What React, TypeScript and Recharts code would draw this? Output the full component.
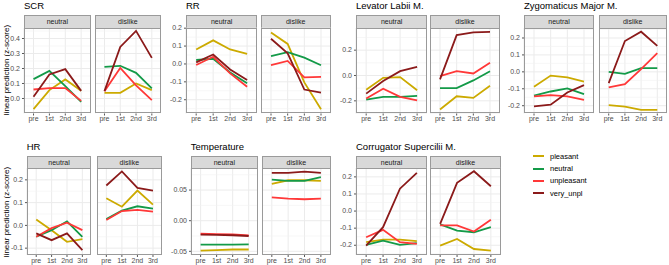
import React from 'react';
import { LineChart, Line, XAxis, YAxis, CartesianGrid } from 'recharts';

const categories = ['pre', '1st', '2nd', '3rd'];
const seriesNames = ['pleasant', 'neutral', 'unpleasant', 'very_unpl'];
const seriesColors = ['#CCAA00', '#139A48', '#FF3838', '#8B1A1A'];
const facetNames = ['neutral', 'dislike'];
const yAxisTitle = 'linear prediction (z-score)';

// rows ordered as seriesNames: pleasant, neutral, unpleasant, very_unpl
const scrNeutral = [
  [-0.071, 0.056, 0.127, 0.051],
  [0.129, 0.184, 0.082, -0.022],
  [0.06, 0.069, 0.069, -0.016],
  [0.011, 0.16, 0.196, 0.051],
];
const scrDislike = [
  [0.038, 0.038, 0.1, 0.056],
  [0.211, 0.218, 0.171, 0.067],
  [0.049, 0.204, 0.087, -0.011],
  [0.049, 0.344, 0.451, 0.271],
];
const rrNeutral = [
  [0.081, 0.132, 0.081, 0.057],
  [0.022, 0.029, -0.048, -0.108],
  [-0.006, 0.04, -0.053, -0.127],
  [0.009, 0.053, -0.031, -0.09],
];
const rrDislike = [
  [0.176, 0.112, -0.103, -0.253],
  [0.044, 0.066, 0.035, -0.007],
  [-0.006, 0.017, -0.075, -0.072],
  [0.141, 0.059, -0.143, -0.16],
];
const levNeutral = [
  [-0.112, -0.018, -0.013, -0.117],
  [-0.19, -0.169, -0.169, -0.161],
  [-0.182, -0.104, -0.169, -0.197],
  [-0.143, -0.044, 0.034, 0.068],
];
const levDislike = [
  [-0.268, -0.164, -0.177, -0.081],
  [-0.099, -0.099, -0.039, 0.034],
  [-0.005, 0.034, 0.016, 0.101],
  [-0.031, 0.319, 0.34, 0.345],
];
const zygNeutral = [
  [-0.088, -0.022, -0.033, -0.057],
  [-0.141, -0.116, -0.098, -0.131],
  [-0.145, -0.137, -0.145, -0.165],
  [-0.204, -0.194, -0.122, -0.078],
];
const zygDislike = [
  [-0.196, -0.206, -0.224, -0.225],
  [0.0, -0.012, 0.022, 0.022],
  [-0.092, -0.073, 0.016, 0.11],
  [-0.067, 0.182, 0.237, 0.153],
];
const hrNeutral = [
  [0.026, -0.021, -0.072, -0.06],
  [-0.05, -0.021, 0.018, -0.05],
  [-0.05, -0.012, 0.012, -0.021],
  [-0.035, -0.065, -0.035, -0.109],
];
const hrDislike = [
  [0.119, 0.082, 0.153, 0.091],
  [0.028, 0.065, 0.084, 0.074],
  [0.024, 0.063, 0.068, 0.06],
  [0.175, 0.237, 0.165, 0.153],
];
const tempNeutral = [
  [-0.049, -0.048, -0.047, -0.047],
  [-0.039, -0.039, -0.039, -0.0385],
  [-0.021, -0.022, -0.0225, -0.024],
  [-0.0228, -0.0233, -0.0238, -0.025],
];
const tempDislike = [
  [0.06, 0.066, 0.066, 0.065],
  [0.067, 0.065, 0.065, 0.071],
  [0.038, 0.036, 0.035, 0.036],
  [0.078, 0.078, 0.08, 0.078],
];
const corNeutral = [
  [-0.182, -0.167, -0.167, -0.176],
  [-0.198, -0.173, -0.198, -0.188],
  [-0.153, -0.11, -0.182, -0.192],
  [-0.202, -0.094, 0.131, 0.224],
];
const corDislike = [
  [-0.202, -0.163, -0.222, -0.231],
  [-0.078, -0.114, -0.124, -0.094],
  [-0.084, -0.084, -0.12, -0.051],
  [-0.075, 0.165, 0.233, 0.145],
];

const scrTicks = [0, 0.1, 0.2, 0.3, 0.4];
const scrMinor = [-0.05, 0.05, 0.15, 0.25, 0.35, 0.45];
const rrTicks = [-0.2, -0.1, 0, 0.1, 0.2];
const rrMinor = [-0.25, -0.15, -0.05, 0.05, 0.15];
const levTicks = [-0.2, 0, 0.2];
const levMinor = [-0.3, -0.1, 0.1, 0.3];
const zygTicks = [-0.2, -0.1, 0, 0.1, 0.2];
const zygMinor = [-0.15, -0.05, 0.05, 0.15, 0.25];
const hrTicks = [-0.1, 0, 0.1, 0.2];
const hrMinor = [-0.05, 0.05, 0.15, 0.25];
const tempTicks = [-0.05, 0, 0.05];
const tempMinor = [-0.025, 0.025, 0.075];
const corTicks = [-0.2, -0.1, 0, 0.1, 0.2];
const corMinor = [-0.25, -0.15, -0.05, 0.05, 0.15, 0.25];

const FONT = '"Liberation Sans", Arial, Helvetica, sans-serif';
const TICK_COLOR = '#4D4D4D';
const ROWS = [
  { titleTop: -0.5, stripTop: 15, plotTop: 27.5, plotBottom: 113 },
  { titleTop: 140.5, stripTop: 156, plotTop: 168, plotBottom: 255 },
];

const measures = [
  { title: 'SCR', row: 0, xs: [24, 90.7, 94.7, 161], facets: [scrNeutral, scrDislike], domain: [-0.1, 0.47], ticks: scrTicks, minor: scrMinor, digits: 1 },
  { title: 'RR', row: 0, xs: [186, 257.3, 260.7, 330.7], facets: [rrNeutral, rrDislike], domain: [-0.277, 0.201], ticks: rrTicks, minor: rrMinor, digits: 1 },
  { title: 'Levator Labii M.', row: 0, xs: [356, 427.3, 430, 500], facets: [levNeutral, levDislike], domain: [-0.3, 0.375], ticks: levTicks, minor: levMinor, digits: 1 },
  { title: 'Zygomaticus Major M.', row: 0, xs: [524, 594, 598.7, 666.7], facets: [zygNeutral, zygDislike], domain: [-0.246, 0.259], ticks: zygTicks, minor: zygMinor, digits: 1 },
  { title: 'HR', row: 1, xs: [26.7, 91.3, 96.7, 162], facets: [hrNeutral, hrDislike], domain: [-0.13, 0.252], ticks: hrTicks, minor: hrMinor, digits: 1 },
  { title: 'Temperature', row: 1, xs: [190.7, 258, 262, 330.7], facets: [tempNeutral, tempDislike], domain: [-0.056, 0.086], ticks: tempTicks, minor: tempMinor, digits: 2 },
  { title: 'Corrugator Supercilii M.', row: 1, xs: [356, 427, 430, 501], facets: [corNeutral, corDislike], domain: [-0.257, 0.252], ticks: corTicks, minor: corMinor, digits: 1 },
];

function buildData(rows: number[][]) {
  return categories.map((c, i) => {
    const o: any = { cat: c };
    seriesNames.forEach((s, k) => {
      o[s] = rows[k][i];
    });
    return o;
  });
}

function XTick(p: any) {
  return (
    <text x={p.x} y={p.y} dy="0.71em" textAnchor="middle" fontSize={7} fill={TICK_COLOR} fontFamily={FONT}>
      {p.payload.value}
    </text>
  );
}

function Facet(props: any) {
  const { left, right, top, bottom, stripTop, label, rows, domain, ticks, minor, showY, digits } = props;
  const w = right - left;
  const h = bottom - top;
  const yw = showY ? 30 : 0;
  const XH = 14;
  const MT = 6;
  const pad = w / 7;
  const data = buildData(rows);
  const YTick = (p: any) => (
    <text x={p.x} y={p.y} dy="0.32em" textAnchor="end" fontSize={7} fill={TICK_COLOR} fontFamily={FONT}>
      {Number(p.payload.value).toFixed(digits)}
    </text>
  );
  return (
    <>
      <div
        style={{
          position: 'absolute',
          left,
          top: stripTop,
          width: w,
          height: top - stripTop + 1,
          background: '#D9D9D9',
          border: '1px solid #9A9A9A',
          boxSizing: 'border-box',
          fontSize: 7,
          color: '#1A1A1A',
          textAlign: 'center',
          lineHeight: `${top - stripTop - 1}px`,
        }}
      >
        {label}
      </div>
      <div style={{ position: 'absolute', left: left - yw, top: top - MT }}>
        <LineChart width={w + yw} height={h + XH + MT} data={data} margin={{ top: MT, right: 0, bottom: 0, left: 0 }}>
          <CartesianGrid stroke="#EBEBEB" strokeWidth={1} horizontalValues={ticks} />
          <CartesianGrid stroke="#F1F1F1" strokeWidth={0.6} vertical={false} horizontalValues={minor} />
          <XAxis
            dataKey="cat"
            padding={{ left: pad, right: pad }}
            tickSize={2}
            tickMargin={1}
            axisLine={false}
            stroke="#555"
            tickLine={{ stroke: '#555' }}
            tick={XTick}
            height={XH}
            interval={0}
          />
          <YAxis
            type="number"
            domain={domain}
            ticks={ticks}
            allowDataOverflow
            hide={!showY}
            width={yw}
            tickSize={2}
            tickMargin={2}
            axisLine={false}
            stroke="#555"
            tickLine={{ stroke: '#555' }}
            tick={YTick}
            interval={0}
          />
          {seriesNames.map((s, k) => (
            <Line
              key={s}
              type="linear"
              dataKey={s}
              stroke={seriesColors[k]}
              strokeWidth={1.8}
              dot={false}
              activeDot={false}
              isAnimationActive={false}
            />
          ))}
        </LineChart>
      </div>
      <div
        style={{
          position: 'absolute',
          left,
          top,
          width: w,
          height: h,
          border: '1px solid #9A9A9A',
          boxSizing: 'border-box',
          pointerEvents: 'none',
        }}
      />
    </>
  );
}

export default function App() {
  return (
    <div
      style={{
        position: 'absolute',
        left: 0,
        top: 0,
        width: 669,
        height: 265,
        background: '#FFFFFF',
        overflow: 'hidden',
        fontFamily: FONT,
      }}
    >
      {measures.map((m) => {
        const r = ROWS[m.row];
        return (
          <React.Fragment key={m.title}>
            <div
              style={{
                position: 'absolute',
                left: m.xs[0],
                top: r.titleTop,
                fontSize: 9.5,
                lineHeight: '12px',
                color: '#000',
                whiteSpace: 'nowrap',
              }}
            >
              {m.title}
            </div>
            {facetNames.map((f, fi) => (
              <Facet
                key={f}
                left={m.xs[fi * 2]}
                right={m.xs[fi * 2 + 1]}
                top={r.plotTop}
                bottom={r.plotBottom}
                stripTop={r.stripTop}
                label={f}
                rows={m.facets[fi]}
                domain={m.domain}
                ticks={m.ticks}
                minor={m.minor}
                showY={fi === 0}
                digits={m.digits}
              />
            ))}
          </React.Fragment>
        );
      })}
      {ROWS.map((r, i) => (
        <div
          key={i}
          style={{
            position: 'absolute',
            left: 6,
            top: (r.plotTop + r.plotBottom) / 2,
            transform: 'translate(-50%, -50%) rotate(-90deg)',
            whiteSpace: 'nowrap',
            fontSize: 8,
            color: '#000',
          }}
        >
          {yAxisTitle}
        </div>
      ))}
      <div style={{ position: 'absolute', left: 533, top: 150 }}>
        {seriesNames.map((s, k) => (
          <div key={s} style={{ display: 'flex', alignItems: 'center', height: 12.4 }}>
            <div style={{ width: 11, height: 2, background: seriesColors[k], marginRight: 6 }} />
            <span style={{ fontSize: 7.5, color: '#000' }}>{s}</span>
          </div>
        ))}
      </div>
    </div>
  );
}
